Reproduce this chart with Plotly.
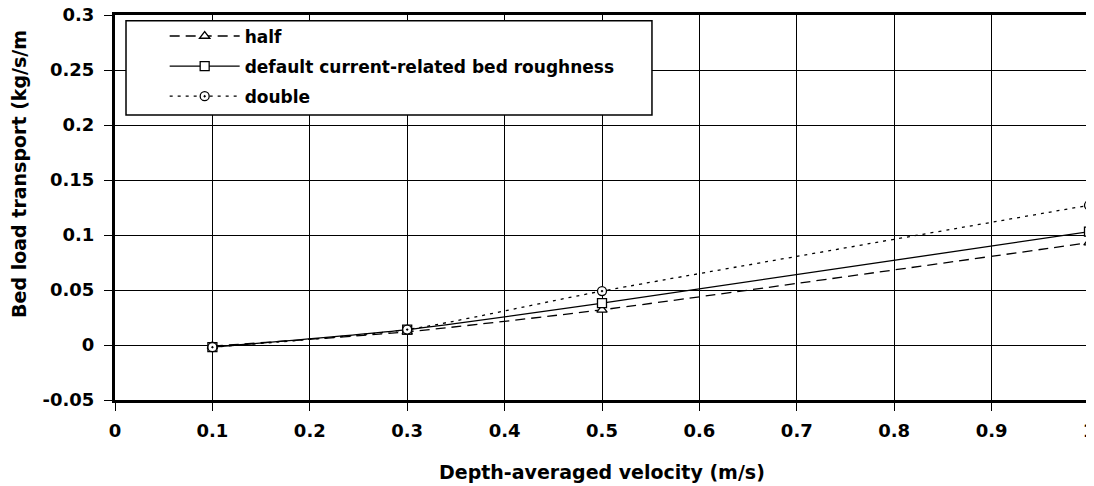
import plotly.graph_objects as go

velocity = [0.1, 0.3, 0.5, 1.0]
half = [-0.001, 0.012, 0.032, 0.093]
default = [-0.002, 0.014, 0.038, 0.103]
double = [-0.002, 0.014, 0.049, 0.127]

x_ticks = [0, 0.1, 0.2, 0.3, 0.4, 0.5, 0.6, 0.7, 0.8, 0.9, 1]
x_labels = ["0", "0.1", "0.2", "0.3", "0.4", "0.5", "0.6", "0.7", "0.8", "0.9", "1"]
y_ticks = [-0.05, 0, 0.05, 0.1, 0.15, 0.2, 0.25, 0.3]
y_labels = ["-0.05", "0", "0.05", "0.1", "0.15", "0.2", "0.25", "0.3"]

font = "DejaVu Sans, Liberation Sans, Arial, sans-serif"

fig = go.Figure()
series = [
    ("half", half, "10px,6px", "triangle-up"),
    ("default current-related bed roughness", default, "solid", "square"),
    ("double", double, "3px,5px", "circle-dot"),
]
for i, (name, vals, dash, sym) in enumerate(series):
    fig.add_trace(go.Scatter(
        x=velocity, y=vals, name=name, mode="lines+markers", legendgroup="g%d" % i,
        cliponaxis=False,
        line=dict(color="black", width=1.3, dash=dash, shape="spline", smoothing=0.6),
        marker=dict(symbol=sym, size=9, color="white", line=dict(color="black", width=1.3)),
    ))

# the page body has an 8px margin, so the figure is sized to fit the 1094x486 window
fig.update_layout(
    width=1086, height=478,
    margin=dict(l=107, r=5, t=7, b=86),
    paper_bgcolor="white", plot_bgcolor="white",
    font=dict(family=font, size=18, color="black"),
    showlegend=True,
    legend=dict(
        x=0.051, y=0.991, xanchor="left", yanchor="top",
        bgcolor="rgba(0,0,0,0)", borderwidth=0,
        font=dict(family=font, size=17, color="black", weight="bold"),
        traceorder="grouped", itemwidth=70, tracegroupgap=5,
    ),
    shapes=[
        dict(type="rect", xref="paper", yref="paper", x0=0.0113, x1=0.5513,
             y0=0.7403, y1=0.9852, fillcolor="white", line=dict(color="black", width=1.5),
             layer="above"),
    ],
    annotations=[
        dict(text="<b>Bed load transport (kg/s/m</b>", xref="paper", yref="paper",
             x=-0.0986, y=0.208, xanchor="center", yanchor="bottom", textangle=-90,
             showarrow=False, font=dict(family=font, size=19, color="black")),
        dict(text="<b>Depth-averaged velocity (m/s)</b>", xref="paper", yref="paper",
             x=0.5, y=-0.187, xanchor="center", yanchor="middle",
             showarrow=False, font=dict(family=font, size=19, color="black")),
    ],
)
fig.update_xaxes(
    range=[0, 1], tickvals=x_ticks, ticktext=["<b>%s</b>" % t for t in x_labels],
    automargin=False, ticklabelstandoff=4, ticklabeloverflow="allow",
    showgrid=True, gridcolor="black", gridwidth=1.3,
    showline=True, linecolor="black", linewidth=3, mirror=True,
    ticks="outside", ticklen=8, tickcolor="black", tickwidth=1.3,
    zeroline=False, tickfont=dict(family=font, size=18, color="black"),
)
fig.update_yaxes(
    range=[-0.05, 0.3], tickvals=y_ticks, ticktext=["<b>%s</b>" % t for t in y_labels],
    automargin=False, ticklabelstandoff=6, ticklabeloverflow="allow",
    showgrid=True, gridcolor="black", gridwidth=1.3,
    showline=True, linecolor="black", linewidth=3, mirror=True,
    ticks="outside", ticklen=8, tickcolor="black", tickwidth=1.3,
    zeroline=False, tickfont=dict(family=font, size=18, color="black"),
)

fig.write_html("out.html")
